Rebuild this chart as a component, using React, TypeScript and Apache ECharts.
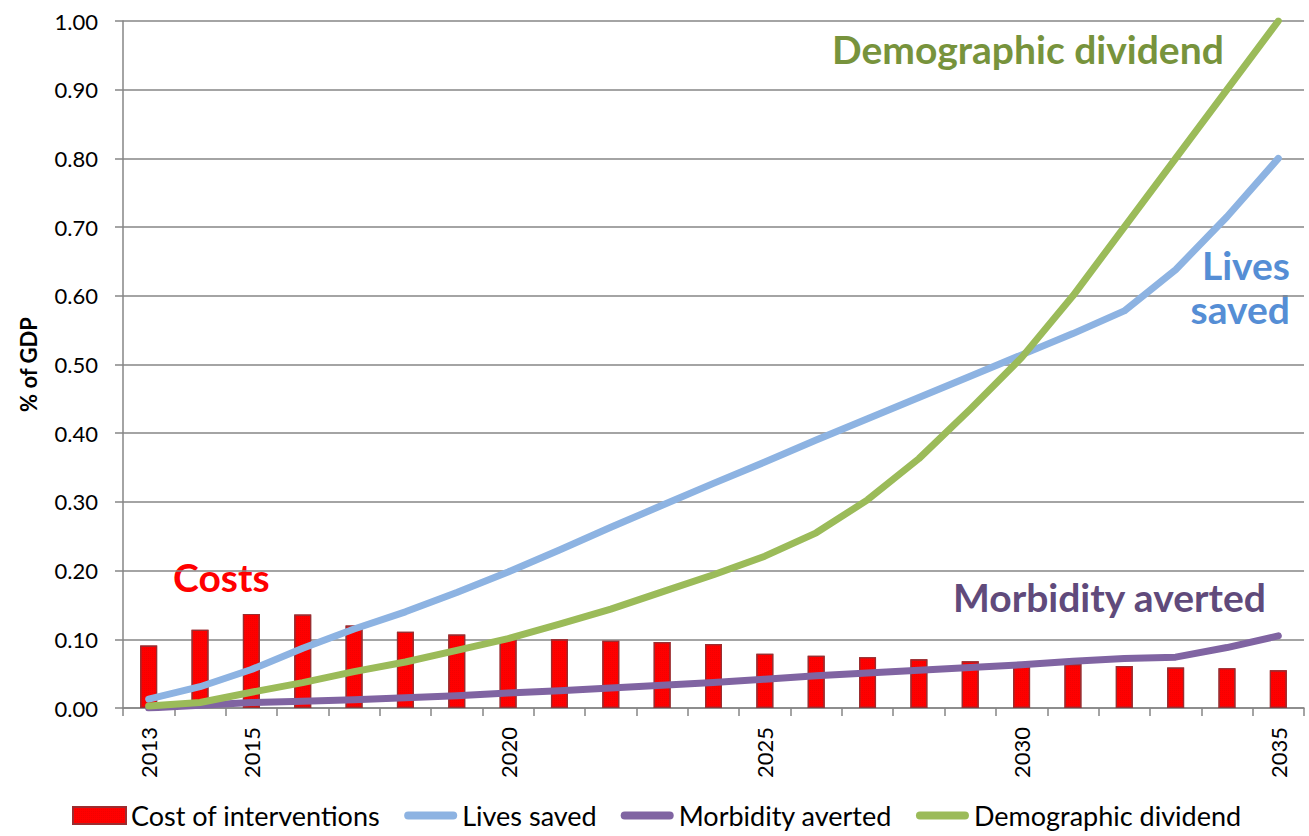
import React, { useEffect, useRef } from "react";
import * as echarts from "echarts";

// Years on the category axis
const years = [
  "2013", "2014", "2015", "2016", "2017", "2018", "2019", "2020", "2021", "2022", "2023", "2024",
  "2025", "2026", "2027", "2028", "2029", "2030", "2031", "2032", "2033", "2034", "2035",
];

// Cost of interventions (% of GDP)
const costs = [
  0.091, 0.114, 0.137, 0.136, 0.120, 0.111, 0.107, 0.100, 0.100, 0.098, 0.096, 0.093,
  0.079, 0.076, 0.074, 0.071, 0.068, 0.066, 0.064, 0.061, 0.059, 0.058, 0.055,
];

// Benefits (% of GDP)
const livesSaved = [
  0.013, 0.031, 0.056, 0.087, 0.115, 0.140, 0.168, 0.198, 0.230, 0.263, 0.295, 0.327,
  0.358, 0.390, 0.421, 0.452, 0.483, 0.514, 0.545, 0.578, 0.638, 0.715, 0.800,
];
const morbidityAverted = [
  0.000, 0.004, 0.008, 0.010, 0.012, 0.015, 0.018, 0.022, 0.025, 0.029, 0.033, 0.037,
  0.042, 0.047, 0.051, 0.055, 0.059, 0.063, 0.068, 0.072, 0.074, 0.088, 0.105,
];
const demographicDividend = [
  0.003, 0.008, 0.023, 0.037, 0.053, 0.067, 0.084, 0.101, 0.122, 0.144, 0.169, 0.194,
  0.221, 0.255, 0.303, 0.363, 0.435, 0.510, 0.600, 0.700, 0.800, 0.900, 1.000,
];

// Years that carry a label on the axis
const labelledYears = ["2013", "2015", "2020", "2025", "2030", "2035"];

const FONT = "Lato, 'Open Sans', sans-serif";

// Thick rounded stroke used as the legend swatch of the line series
// (the leading moves keep the full 53x17 box so the bar stays thin)
const LINE_ICON =
  "path://M0,0M53,17M4,4.5L49,4.5A4,4,0,0,1,49,12.5L4,12.5A4,4,0,0,1,4,4.5Z";

export default function App() {
  const ref = useRef<HTMLDivElement>(null);

  useEffect(() => {
    if (!ref.current) return;
    const chart = echarts.init(ref.current, null, { renderer: "svg" });

    const lineSeries = (name: string, data: number[], color: string) => ({
      name,
      type: "line",
      data,
      showSymbol: false,
      symbol: "none",
      smooth: false,
      z: 3,
      itemStyle: { color },
      lineStyle: { color, width: 7, cap: "round", join: "round" },
    });

    const label = (text: string, color: string, pos: Record<string, number>) => ({
      type: "text",
      ...pos,
      style: { text, fill: color, font: `bold 39px ${FONT}` },
    });

    chart.setOption({
      animation: false,
      textStyle: { fontFamily: FONT },
      grid: { left: 123, right: 5, top: 21, bottom: 128, containLabel: false },
      legend: {
        left: 67,
        top: 797,
        itemWidth: 53,
        itemHeight: 17,
        itemGap: 24,
        textStyle: { fontSize: 27, color: "#000", fontFamily: FONT },
        data: [
          { name: "Cost of interventions", icon: "rect" },
          { name: "Lives saved", icon: LINE_ICON },
          { name: "Morbidity averted", icon: LINE_ICON },
          { name: "Demographic dividend", icon: LINE_ICON },
        ],
      },
      xAxis: {
        type: "category",
        data: years,
        boundaryGap: true,
        axisLine: { lineStyle: { color: "#868686", width: 1.5 } },
        axisTick: {
          show: true,
          interval: 0,
          alignWithLabel: false,
          length: 8,
          lineStyle: { color: "#868686", width: 1.5 },
        },
        axisLabel: {
          interval: (_i: number, v: string) => labelledYears.includes(v),
          rotate: 90,
          margin: 19,
          fontSize: 22,
          color: "#000",
          fontFamily: FONT,
        },
      },
      yAxis: {
        type: "value",
        min: 0,
        max: 1,
        interval: 0.1,
        name: "% of GDP",
        nameLocation: "middle",
        nameGap: 84,
        nameTextStyle: { fontSize: 22, fontWeight: "bold", color: "#000", fontFamily: FONT },
        axisLine: { show: true, lineStyle: { color: "#868686", width: 1.5 } },
        axisTick: { show: true, length: 8, lineStyle: { color: "#868686", width: 1.5 } },
        axisLabel: {
          formatter: (v: number) => v.toFixed(2),
          fontSize: 22,
          color: "#000",
          margin: 25,
          fontFamily: FONT,
        },
        splitLine: { lineStyle: { color: "#868686", width: 1.5 } },
      },
      series: [
        {
          name: "Cost of interventions",
          type: "bar",
          data: costs,
          barWidth: 17,
          z: 2,
          itemStyle: {
            color: "#FF0000",
            borderColor: "#9B2D30",
            borderWidth: 1.2,
            decal: {
              symbol: "rect",
              symbolSize: 0.5,
              dashArrayX: [1, 1],
              dashArrayY: [1, 1],
              color: "rgba(150, 0, 0, 0.45)",
            },
          },
        },
        lineSeries("Lives saved", livesSaved, "#8DB3E2"),
        lineSeries("Morbidity averted", morbidityAverted, "#8064A2"),
        lineSeries("Demographic dividend", demographicDividend, "#9BBB59"),
      ],
      graphic: [
        label("Demographic dividend", "#77933C", { left: 832, top: 29 }),
        label("Lives", "#558ED5", { right: 19, top: 245 }),
        label("saved", "#558ED5", { right: 19, top: 289 }),
        label("Morbidity averted", "#604A7B", { left: 953, top: 577 }),
        label("Costs", "#FF0000", { left: 173, top: 557 }),
      ],
    });

    return () => chart.dispose();
  }, []);

  return <div ref={ref} style={{ width: 1309, height: 836, position: "absolute", left: 0, top: 0 }} />;
}
